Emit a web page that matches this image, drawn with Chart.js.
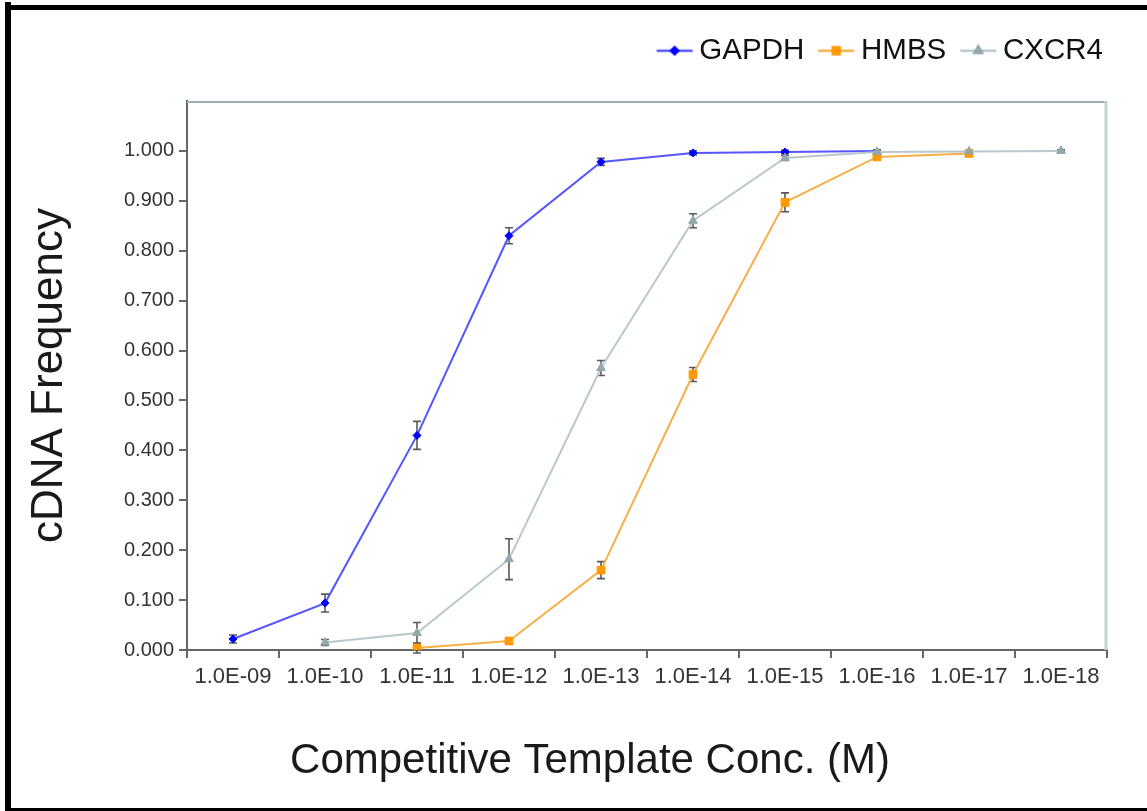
<!DOCTYPE html>
<html>
<head>
<meta charset="utf-8">
<script src="https://cdn.jsdelivr.net/npm/chart.js@4/dist/chart.umd.min.js"></script>
<style>
  html, body { margin: 0; padding: 0; background: #ffffff; }
  canvas { display: block; }
</style>
</head>
<body>
<canvas id="chart" width="1147" height="811"></canvas>
<script>
// Competitive template concentrations (M), one category per dilution step
const categories = ['1.0E-09', '1.0E-10', '1.0E-11', '1.0E-12', '1.0E-13',
                    '1.0E-14', '1.0E-15', '1.0E-16', '1.0E-17', '1.0E-18'];

// cDNA frequency per gene, with the standard error at each step
const gapdh     = [0.022, 0.094, 0.430, 0.830, 0.978, 0.996, 0.998, 1.000, null, null];
const gapdhErr  = [0.008, 0.018, 0.028, 0.016, 0.007, 0.004, 0.003, 0.000, 0, 0];
const hmbs      = [null, null, 0.004, 0.018, 0.160, 0.552, 0.897, 0.988, 0.995, null];
const hmbsErr   = [0, 0, 0.010, 0.006, 0.017, 0.014, 0.019, 0.006, 0.004, 0];
const cxcr4     = [null, 0.015, 0.034, 0.182, 0.565, 0.860, 0.986, 0.998, 0.999, 1.000];
const cxcr4Err  = [0, 0.006, 0.021, 0.041, 0.015, 0.014, 0.005, 0.004, 0.003, 0.002];

// y-axis tick values (0.000 .. 1.000)
const yTicks = [0, 0.1, 0.2, 0.3, 0.4, 0.5, 0.6, 0.7, 0.8, 0.9, 1.0];

const xTitle = 'Competitive Template Conc. (M)';
const yTitle = 'cDNA Frequency';

const FONT = "'Liberation Sans', Arial, sans-serif";

// small line-plus-marker swatch for the legend
function swatch(lineColor, markerColor, style, radius) {
  const c = document.createElement('canvas');
  c.width = 38; c.height = 16;
  const g = c.getContext('2d');
  g.strokeStyle = lineColor;
  g.lineWidth = 2.5;
  g.beginPath(); g.moveTo(1, 8); g.lineTo(37, 8); g.stroke();
  g.fillStyle = markerColor;
  g.strokeStyle = markerColor;
  Chart.helpers.drawPoint(g, { pointStyle: style, radius: radius, rotation: 0, borderWidth: 1 }, 19, 8);
  return c;
}

const styles = [
  { line: '#5656ff', marker: '#0000ff', point: 'rectRot', r: 4 },
  { line: '#f7b048', marker: '#ff9a00', point: 'rect', r: 5.5 },
  { line: '#b9c8cc', marker: '#93a7ad', point: 'triangle', r: 5 }
];
const errors = [gapdhErr, hmbsErr, cxcr4Err];

// error bars, drawn under the lines and markers
const errorBars = {
  id: 'errorBars',
  beforeDatasetsDraw(chart) {
    const ctx = chart.ctx;
    const y = chart.scales.y;
    ctx.save();
    ctx.strokeStyle = '#5a5a5a';
    ctx.lineWidth = 1.6;
    chart.data.datasets.forEach((ds, i) => {
      const meta = chart.getDatasetMeta(i);
      meta.data.forEach((pt, j) => {
        const v = ds.data[j];
        const e = errors[i][j];
        if (v == null || !e) return;
        const top = y.getPixelForValue(v + e);
        const bot = y.getPixelForValue(v - e);
        const x = pt.x;
        ctx.beginPath();
        ctx.moveTo(x, top); ctx.lineTo(x, bot);
        ctx.moveTo(x - 4, top); ctx.lineTo(x + 4, top);
        ctx.moveTo(x - 4, bot); ctx.lineTo(x + 4, bot);
        ctx.stroke();
      });
    });
    ctx.restore();
  }
};

// plot box (top and right edges) and the outer black frame
const frame = {
  id: 'frame',
  beforeDraw(chart) {
    const ctx = chart.ctx;
    ctx.save();
    ctx.fillStyle = '#ffffff';
    ctx.fillRect(0, 0, chart.width, chart.height);
    ctx.fillStyle = '#000000';
    ctx.fillRect(5, 2, 6, chart.height - 2);
    ctx.fillRect(5, 5, chart.width - 5, 5);
    ctx.fillRect(5, chart.height - 3, chart.width - 5, 3);
    ctx.restore();
  },
  beforeDatasetsDraw(chart) {
    const a = chart.chartArea;
    const ctx = chart.ctx;
    ctx.save();
    ctx.strokeStyle = '#9fb0b5';
    ctx.lineWidth = 2;
    ctx.beginPath(); ctx.moveTo(a.left, a.top + 1); ctx.lineTo(a.right, a.top + 1); ctx.stroke();
    ctx.strokeStyle = '#c4d1d5';
    ctx.lineWidth = 3;
    ctx.beginPath(); ctx.moveTo(a.right - 1, a.top); ctx.lineTo(a.right - 1, a.bottom); ctx.stroke();
    ctx.restore();
  }
};

// fixed legend band height, and the legend row pushed to the right edge
const legendBand = {
  id: 'legendBand',
  beforeInit(chart) {
    const fit = chart.legend.fit;
    chart.legend.fit = function () {
      fit.call(this);
      this.height = 87;
    };
  },
  afterLayout(chart) {
    chart.legend.right += 18;
  }
};

// x-axis caption, centred under the page rather than the plot box
const xCaption = {
  id: 'xCaption',
  afterDraw(chart, args, opts) {
    const ctx = chart.ctx;
    ctx.save();
    ctx.fillStyle = opts.color;
    ctx.font = opts.size + 'px ' + FONT;
    ctx.textAlign = 'center';
    ctx.textBaseline = 'middle';
    ctx.fillText(opts.text, opts.x, opts.y);
    ctx.restore();
  }
};

const swatches = styles.map(s => swatch(s.line, s.marker, s.point, s.r * 0.9));

function series(label, data, s, order) {
  return {
    label, data, order,
    borderColor: s.line,
    backgroundColor: s.marker,
    pointBackgroundColor: s.marker,
    pointBorderColor: s.marker,
    pointStyle: s.point,
    // the closing GAPDH step carries the line only
    pointRadius: data.map((v, j) => (label === 'GAPDH' && j === 7) ? 0 : s.r),
    pointBorderWidth: 1,
    borderWidth: 2,
    tension: 0,
    spanGaps: false
  };
}

new Chart(document.getElementById('chart'), {
  type: 'line',
  data: {
    labels: categories,
    datasets: [
      series('GAPDH', gapdh, styles[0], 3),
      series('HMBS', hmbs, styles[1], 2),
      series('CXCR4', cxcr4, styles[2], 1)
    ]
  },
  options: {
    responsive: false,
    animation: false,
    devicePixelRatio: 1,
    layout: { padding: { left: 12, right: 40, top: 14, bottom: 0 } },
    plugins: {
      tooltip: { enabled: false },
      xCaption: { text: xTitle, x: 590, y: 761, size: 42, color: '#1a1a1a' },
      legend: {
        position: 'top',
        align: 'end',
        labels: {
          usePointStyle: true,
          pointStyleWidth: 20,
          padding: 22,
          color: '#111111',
          font: { family: FONT, size: 29.5 },
          sort: (a, b) => a.datasetIndex - b.datasetIndex,
          generateLabels(chart) {
            const items = Chart.defaults.plugins.legend.labels.generateLabels(chart);
            items.forEach(it => { it.pointStyle = swatches[it.datasetIndex]; });
            return items;
          }
        }
      }
    },
    scales: {
      x: {
        type: 'category',
        offset: true,
        grid: { offset: true, drawOnChartArea: false, tickLength: 8, color: '#666666', lineWidth: 2 },
        border: { color: '#666666', width: 2 },
        ticks: { color: '#333333', font: { family: FONT, size: 22 }, padding: 6, maxRotation: 0, autoSkip: false },
        afterFit(scale) { scale.height = 161; }
      },
      y: {
        min: 0,
        max: 1.1,
        afterBuildTicks(scale) {
          scale.ticks = yTicks.concat([1.1]).map(v => ({ value: v }));
        },
        grid: { drawOnChartArea: false, tickLength: 8, color: '#666666', lineWidth: 2 },
        border: { color: '#666666', width: 2 },
        ticks: {
          color: '#333333',
          font: { family: FONT, size: 20 },
          padding: 5,
          callback(v) { return v > 1.0001 ? null : Number(v).toFixed(3); }
        },
        title: {
          display: true,
          text: yTitle,
          color: '#1a1a1a',
          font: { family: FONT, size: 44 },
          padding: { top: 11, bottom: 0 }
        },
        afterFit(scale) { scale.width = 175; }
      }
    }
  },
  plugins: [frame, errorBars, legendBand, xCaption]
});
</script>
</body>
</html>
